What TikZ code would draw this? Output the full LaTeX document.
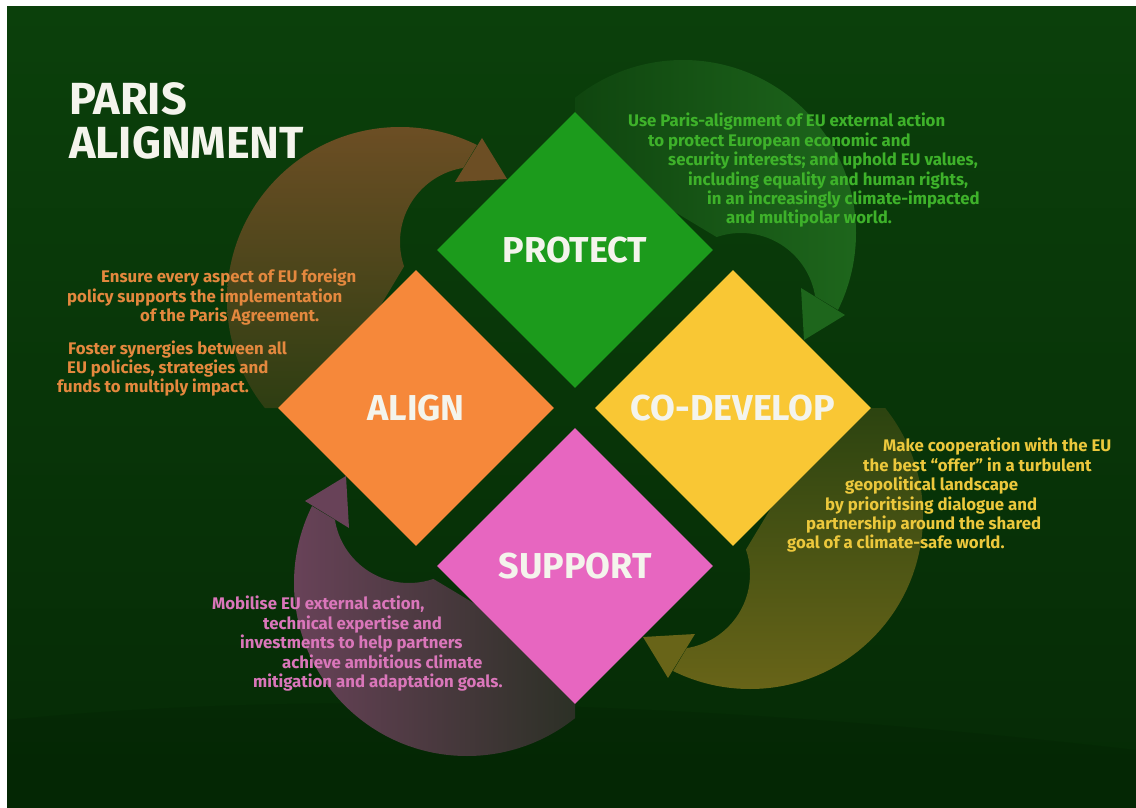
\documentclass[tikz,border=0pt]{standalone}
\usepackage{fontspec}
\setmainfont{Fira Sans}
\usetikzlibrary{shapes.geometric}
\definecolor{bgtop}{RGB}{11,64,11}
\definecolor{bgbot}{RGB}{5,42,5}
\definecolor{protectfill}{RGB}{28,155,28}
\definecolor{codevfill}{RGB}{249,199,52}
\definecolor{alignfill}{RGB}{246,136,58}
\definecolor{supportfill}{RGB}{231,102,192}
\definecolor{labelwhite}{RGB}{244,244,236}
\definecolor{protecttxt}{RGB}{62,178,42}
\definecolor{aligntxt}{RGB}{228,136,62}
\definecolor{codevtxt}{RGB}{236,200,60}
\definecolor{supporttxt}{RGB}{218,118,186}
\definecolor{brownlight}{RGB}{108,78,36}
\definecolor{browndark}{RGB}{32,58,14}
\definecolor{greenlight}{RGB}{30,102,28}
\definecolor{greendark}{RGB}{12,62,12}
\definecolor{olivelight}{RGB}{104,100,24}
\definecolor{olivedark}{RGB}{30,60,14}
\definecolor{mauvelight}{RGB}{104,66,88}
\definecolor{mauvedark}{RGB}{30,44,26}
\newcommand\cyclearrow[3]{%
  \begin{scope}[rotate around={#1:(575,408)}]
    \begin{scope}
      \clip (0,0) -- (564,0) -- (319,408) -- (0,408) -- cycle;
      \shade[even odd rule, top color=#2, bottom color=#3, shading angle=#1]
        (400,300) circle[radius=173] (475,242) circle[radius=75];
    \end{scope}
    \fill[#2] (482,138) -- (507,179) -- (455,182) -- cycle;
  \end{scope}}
\tikzset{
  dia/.style={diamond, aspect=1, minimum width=276pt, minimum height=276pt,
    inner sep=0pt, text=labelwhite, font=\fontsize{36}{36}\selectfont\bfseries},
  desc/.style={anchor=north west, inner sep=0pt, align=left,
    font=\fontsize{16.8}{19.4}\selectfont\bfseries}
}
\begin{document}
\begin{tikzpicture}[x=1pt,y=-1pt]
\useasboundingbox (0,0) rectangle (1136,808);
\fill[white] (0,0) rectangle (1136,808);
\shade[top color=bgtop, bottom color=bgbot] (7,7) rectangle (1136,808);
% subtle waves
\fill[black, opacity=0.07] (7,720) .. controls (300,690) and (700,700) .. (1136,750) -- (1136,808) -- (7,808) -- cycle;
% cycle arrows
\cyclearrow{0}{brownlight}{browndark}
\cyclearrow{-90}{greenlight}{greendark}
\cyclearrow{-180}{olivelight}{olivedark}
\cyclearrow{90}{mauvelight}{mauvedark}
% diamonds
\node[dia, fill=protectfill] (protect) at (575,250) {PROTECT};
\node[dia, fill=codevfill] (codevelop) at (733,408) {CO-DEVELOP};
\node[dia, fill=alignfill] (align) at (416,408) {ALIGN};
\node[dia, fill=supportfill] (support) at (575,566) {SUPPORT};
% title
\node[anchor=north west, inner sep=0pt, align=left, text=labelwhite,
  font=\fontsize{45}{44}\selectfont\bfseries] (title) at (69,82) {PARIS\\ALIGNMENT};
% descriptions
\node[desc, text=protecttxt] (protectdesc) at (628,113) {Use Paris-alignment of EU external action\\
\hspace*{20pt}to protect European economic and\\
\hspace*{40pt}security interests; and uphold EU values,\\
\hspace*{60pt}including equality and human rights,\\
\hspace*{79pt}in an increasingly climate-impacted\\
\hspace*{98pt}and multipolar world.};
\node[desc, text=aligntxt] (aligndesc) at (67,269) {\hspace*{34pt}Ensure every aspect of EU foreign\\
policy supports the implementation\\
\hspace*{73pt}of the Paris Agreement.\\[13pt]
\hspace*{1pt}Foster synergies between all\\
EU policies, strategies and\\
\hspace*{-10pt}funds to multiply impact.};
\node[desc, text=codevtxt] (codevdesc) at (787,438) {\hspace*{96pt}Make cooperation with the EU\\
\hspace*{76pt}the best “offer” in a turbulent\\
\hspace*{58pt}geopolitical landscape\\
\hspace*{38pt}by prioritising dialogue and\\
\hspace*{19pt}partnership around the shared\\
goal of a climate-safe world.};
\node[desc, text=supporttxt] (supportdesc) at (212,596) {Mobilise EU external action,\\
\hspace*{51pt}technical expertise and\\
\hspace*{28pt}investments to help partners\\
\hspace*{70pt}achieve ambitious climate\\
\hspace*{41pt}mitigation and adaptation goals.};
\end{tikzpicture}
\end{document}
